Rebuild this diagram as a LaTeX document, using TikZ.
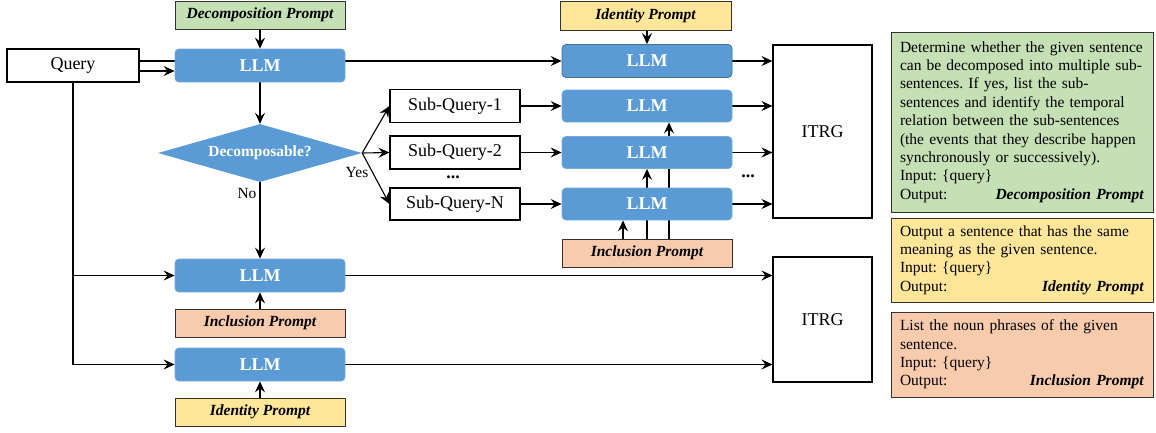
\documentclass[tikz,border=0pt]{standalone}
\usepackage{fontspec}
\setmainfont{Liberation Serif}
\usetikzlibrary{arrows.meta,shapes.geometric,backgrounds}
\definecolor{llmblue}{HTML}{5B9BD5}
\definecolor{llmedge}{HTML}{41719C}
\definecolor{pgreen}{HTML}{C5E0B4}
\definecolor{pyellow}{HTML}{FFE699}
\definecolor{psalmon}{HTML}{F8CBAD}
\definecolor{edgegray}{HTML}{333333}
\frenchspacing
\tikzset{
  llm/.style={rounded corners=4pt, fill=llmblue, draw=llmblue!85!white, line width=0.8pt,
    minimum width=170pt, minimum height=33pt, inner sep=0pt, text=white,
    font=\fontsize{18}{20}\selectfont\bfseries},
  plabel/.style={draw=edgegray, line width=1pt, minimum width=170pt, minimum height=28pt,
    inner sep=0pt, font=\fontsize{15.5}{18}\selectfont\bfseries\itshape},
  plainbox/.style={draw=black, line width=1.1pt, fill=white, inner sep=0pt,
    font=\fontsize{18}{20}\selectfont},
  descbox/.style={draw=edgegray, line width=1pt, text width=244pt, inner xsep=9pt, inner ysep=0pt,
    minimum width=262pt, align=left, font=\fontsize{15.5}{18.4}\selectfont\frenchspacing},
  arr/.style={-{Stealth[length=11pt,width=10pt,inset=4pt]}, line width=1.1pt},
  conn/.style={line width=1.1pt},
  smalltext/.style={font=\fontsize{15.5}{18}\selectfont, inner sep=0pt},
  dotstext/.style={font=\fontsize{18}{20}\selectfont\bfseries, inner sep=0pt}
}
\begin{document}
\begin{tikzpicture}[x=1pt,y=-1pt]
\useasboundingbox (0,0) rectangle (1156,432);

% left column
\node[plainbox, minimum width=132pt, minimum height=33pt] (query) at (73,65.5) {Query};
\node[plabel, fill=pgreen] (dptop) at (260,15) {Decomposition Prompt};
\node[llm] (llm1) at (260,65.5) {LLM};
\node[diamond, fill=llmblue, aspect=3.5, inner sep=0pt, minimum width=204pt, minimum height=58pt,
  text=white, font=\fontsize{15.5}{18}\selectfont\bfseries] (dec) at (260,153) {Decomposable?};
\node[smalltext] (nolab) at (247,193) {No};
\node[smalltext] (yeslab) at (357,172) {Yes};
\node[llm] (llmno) at (260,275.5) {LLM};
\node[plabel, fill=psalmon] (inclow) at (260,323) {Inclusion Prompt};
\node[llm] (llmlow) at (260,364.5) {LLM};
\node[plabel, fill=pyellow] (idlow) at (260,412) {Identity Prompt};

% sub-queries
\node[plainbox, minimum width=130pt, minimum height=33pt] (sq1) at (455,106) {Sub-Query-1};
\node[plainbox, minimum width=130pt, minimum height=33pt] (sq2) at (455,152.5) {Sub-Query-2};
\node[plainbox, minimum width=130pt, minimum height=32pt] (sqn) at (455,204) {Sub-Query-N};
\node[dotstext] (dots1) at (453,177) {...};

% middle column
\node[plabel, fill=pyellow, minimum width=171pt, minimum height=29pt] (idtop) at (645.5,15.5) {Identity Prompt};
\node[llm, draw=llmedge] (llmtop) at (647,61) {LLM};
\node[llm, minimum height=32pt] (llms1) at (647,106) {LLM};
\node[llm, minimum height=32pt] (llms2) at (647,152.5) {LLM};
\node[llm, minimum height=32pt] (llmsn) at (647,204) {LLM};
\node[plabel, fill=psalmon] (incmid) at (647,253) {Inclusion Prompt};
\node[dotstext] (dots2) at (748,176) {...};

% ITRG
\node[plainbox, minimum width=99pt, minimum height=173pt] (itrg1) at (822.5,131.5) {ITRG};
\node[plainbox, minimum width=99pt, minimum height=125pt] (itrg2) at (822.5,319.5) {ITRG};

% description boxes
\node[descbox, fill=pgreen, minimum height=180pt] (dbox) at (1022,122) {Determine whether the given sentence\\
can be decomposed into multiple sub-\\
sentences. If yes, list the sub-\\
sentences and identify the temporal\\
relation between the sub-sentences\\
(the events that they describe happen\\
synchronously or successively).\\
Input: \{query\}\\
Output:\hfill\textbf{\textit{Decomposition Prompt}}};
\node[descbox, fill=pyellow, minimum height=84pt] (ibox) at (1022,260) {Output a sentence that has the same\\
meaning as the given sentence.\\
Input: \{query\}\\
Output:\hfill\textbf{\textit{Identity Prompt}}};
\node[descbox, fill=psalmon, minimum height=85pt] (nbox) at (1022,354.5) {List the noun phrases of the given\\
sentence.\\
Input: \{query\}\\
Output:\hfill\textbf{\textit{Inclusion Prompt}}};

\begin{pgfonlayer}{background}
  \draw[arr] ([yshift=4.5pt]query.east) -- (llmtop.west);
  \draw[arr] ([yshift=-5.5pt]query.east) -- ([yshift=-5.5pt]query.east -| llm1.west);
  \draw[arr] (dptop.south) -- (llm1.north);
  \draw[arr] (llm1.south) -- (dec.north);
  \draw[arr] (dec.south) -- (llmno.north);
  \draw[arr] (dec.east) -- (sq1.west);
  \draw[arr] (dec.east) -- (sq2.west);
  \draw[arr] (dec.east) -- (sqn.west);
  \draw[arr] (sq1.east) -- (llms1.west);
  \draw[arr] (sq2.east) -- (llms2.west);
  \draw[arr] (sqn.east) -- (llmsn.west);
  \draw[arr] (idtop.south -| llmtop.north) -- (llmtop.north);
  \draw[arr] (llmtop.east) -- (llmtop.east -| itrg1.west);
  \draw[arr] (llms1.east) -- (llms1.east -| itrg1.west);
  \draw[arr] (llms2.east) -- (llms2.east -| itrg1.west);
  \draw[arr] (llmsn.east) -- (llmsn.east -| itrg1.west);
  \draw[arr] ([xshift=-24pt]incmid.north) -- ([xshift=-24pt]llmsn.south);
  \draw[arr] (incmid.north) -- (llms2.south);
  \draw[arr] ([xshift=22pt]incmid.north) -- ([xshift=22pt]llms1.south);
  \draw[conn] (query.south) -- (query.south |- llmlow.west);
  \draw[arr] (query.south |- llmno.west) -- (llmno.west);
  \draw[arr] (query.south |- llmlow.west) -- (llmlow.west);
  \draw[arr] (inclow.north) -- (llmno.south);
  \draw[arr] (idlow.north) -- (llmlow.south);
  \draw[arr] (llmno.east) -- (llmno.east -| itrg2.west);
  \draw[arr] (llmlow.east) -- (llmlow.east -| itrg2.west);
\end{pgfonlayer}
\end{tikzpicture}
\end{document}
